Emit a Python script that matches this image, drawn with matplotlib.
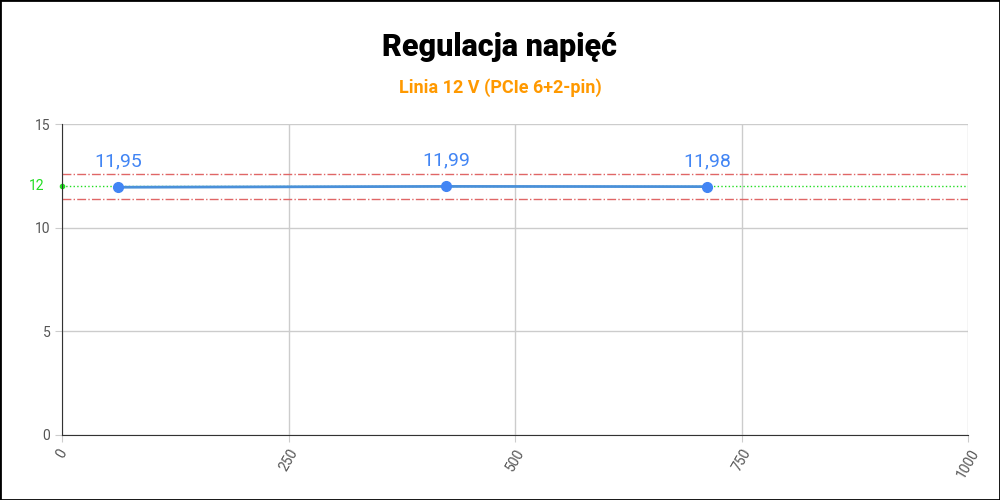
import matplotlib
matplotlib.use("Agg")
import matplotlib.pyplot as plt

x_load = [62, 424, 712]
voltage = [11.95, 11.99, 11.98]
labels = ["11,95", "11,99", "11,98"]
nominal = 12
upper, lower = 12.6, 11.4
yticks = [0, 5, 10, 15]
xticks = [0, 250, 500, 750, 1000]

plt.rcParams['font.family'] = ['Roboto', 'DejaVu Sans']
fig = plt.figure(figsize=(10, 5), dpi=100)
fig.patches.append(plt.Rectangle((0, 0), 1, 1, transform=fig.transFigure, fill=False, edgecolor='black', linewidth=2))
ax = fig.add_axes([0.062, 0.13, 0.906, 0.622])
ax.set_xlim(0, 1000)
ax.set_ylim(0, 15)
ax.set_xticks(xticks)
ax.set_yticks(yticks)
ax.set_xticklabels([str(t) for t in xticks], rotation=60, color='#555555', fontsize=10)
ax.set_yticklabels([str(t) for t in yticks], color='#555555', fontsize=10)
ax.grid(True, color='#cccccc', linewidth=1)
ax.set_axisbelow(True)
for s in ['top', 'right']:
    ax.spines[s].set_visible(False)
ax.spines['bottom'].set_color('#333333')
ax.spines['left'].set_color('#333333')
ax.tick_params(length=5, color='#cccccc')
ax.axhline(upper, color='#e06666', linestyle='-.', linewidth=1)
ax.axhline(lower, color='#e06666', linestyle='-.', linewidth=1)
ax.axhline(nominal, color='#22dd22', linestyle=':', linewidth=1)
ax.plot([0], [nominal], marker='o', color='#22dd22', markersize=3, clip_on=False)
ax.text(-0.02, nominal, "12", transform=ax.get_yaxis_transform(), color='#22dd22', fontsize=10, ha='right', va='center')
ax.plot(x_load, voltage, color='#4a90d9', linewidth=2, marker='o', markersize=7, markerfacecolor='#4285f4', markeredgecolor='#4285f4')
for xv, yv, lb in zip(x_load, voltage, labels):
    ax.annotate(lb, (xv, yv), xytext=(0, 12), textcoords='offset points', ha='center', va='bottom', color='#4285f4', fontsize=14)
fig.text(0.5, 0.905, "Regulacja napięć", ha='center', va='center', fontsize=22, fontweight='black')
fig.text(0.5, 0.825, "Linia 12 V (PCIe 6+2-pin)", ha='center', va='center', fontsize=13, fontweight='bold', color='#ff9900')
fig.savefig("out.png", dpi=100)
